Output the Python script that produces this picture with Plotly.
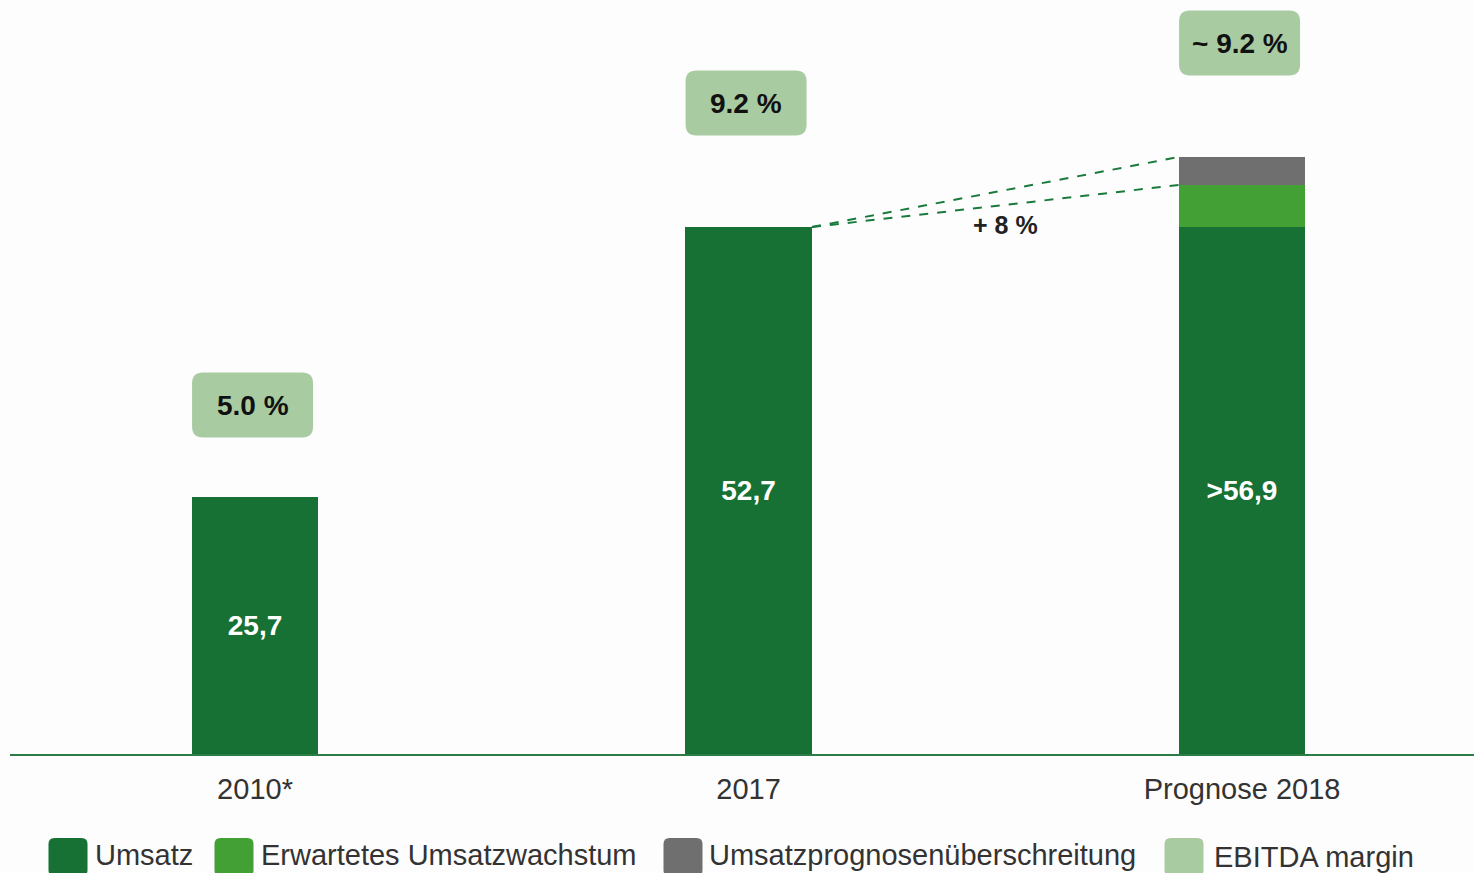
import plotly.graph_objects as go

# data
categories = ["2010*", "2017", "Prognose 2018"]
umsatz = [25.7, 52.7, 52.7]
wachstum = [0, 0, 4.2]
ueberschreitung = [0, 0, 2.8]
umsatz_labels = ["25,7", "52,7", ">56,9"]
ebitda_labels = ["5.0 %", "9.2 %", "~ 9.2 %"]
growth_label = "+ 8 %"
legend_names = ["Umsatz", "Erwartetes Umsatzwachstum", "Umsatzprognosenüberschreitung", "EBITDA margin"]

DARK = "#177134"
MID = "#43a035"
GRAY = "#6f6f6f"
LIGHT = "#a9cba2"
FONT = "Liberation Sans, Arial, sans-serif"

x = list(range(len(categories)))
bw = 0.257

fig = go.Figure()
fig.add_trace(go.Bar(x=x, y=umsatz, width=bw, marker=dict(color=DARK, line=dict(width=0)),
                     text=umsatz_labels, textposition="inside", insidetextanchor="middle",
                     textfont=dict(color="white", size=28, family=FONT, weight="bold"),
                     showlegend=False))
fig.add_trace(go.Bar(x=x, y=wachstum, width=bw, marker=dict(color=MID, line=dict(width=0)),
                     showlegend=False))
fig.add_trace(go.Bar(x=x, y=ueberschreitung, width=bw, marker=dict(color=GRAY, line=dict(width=0)),
                     showlegend=False))


def rounded(w, h, r):
    a, b = w / 2, h / 2
    return (f"M {-a + r},{-b} L {a - r},{-b} Q {a},{-b} {a},{-b + r} "
            f"L {a},{b - r} Q {a},{b} {a - r},{b} L {-a + r},{b} "
            f"Q {-a},{b} {-a},{b - r} L {-a},{-b + r} Q {-a},{-b} {-a + r},{-b} Z")


shapes = []
annotations = []

# EBITDA margin boxes
box_y = [34.9, 65.1, 71.1]
for i, lab in enumerate(ebitda_labels):
    shapes.append(dict(type="path", xref="x", yref="y", xsizemode="pixel", ysizemode="pixel",
                       xanchor=x[i] - 0.005, yanchor=box_y[i], path=rounded(121, 65, 11),
                       fillcolor=LIGHT, line=dict(width=0), layer="below"))
    annotations.append(dict(x=x[i] - 0.005, y=box_y[i], xref="x", yref="y", text=lab, showarrow=False,
                            font=dict(size=28, color="#111", family=FONT, weight="bold")))

# dashed growth lines from 2017 top to 2018 stack tops
top17 = umsatz[1]
tops18 = [umsatz[2] + wachstum[2] + ueberschreitung[2], umsatz[2] + wachstum[2]]
for t in tops18:
    shapes.append(dict(type="line", xref="x", yref="y", x0=x[1] + bw / 2, y0=top17,
                       x1=x[2] - bw / 2, y1=t, line=dict(color="#1a7a3c", width=2, dash="dash")))
annotations.append(dict(x=1.52, y=52.9, xref="x", yref="y", text=growth_label, showarrow=False,
                        font=dict(size=25, color="#222", family=FONT, weight="bold")))

# custom legend
leg_colors = [DARK, MID, GRAY, LIGHT]
leg_swatch_x = [68, 234, 683, 1184]
leg_text_x = [93, 259, 707, 1212]
leg_text_y = [855, 855, 855, 857]
for name, c, sx, tx, ty in zip(legend_names, leg_colors, leg_swatch_x, leg_text_x, leg_text_y):
    shapes.append(dict(type="path", xref="paper", yref="paper", xsizemode="pixel", ysizemode="pixel",
                       xanchor=(sx - 10) / 1464, yanchor=(754 - 857) / 754, path=rounded(39, 38, 6),
                       fillcolor=c, line=dict(width=0)))
    annotations.append(dict(x=(tx - 10) / 1464, y=(754 - ty) / 754, xref="paper", yref="paper",
                            xanchor="left", yanchor="middle", text=name, showarrow=False,
                            font=dict(size=29, color="#333", family=FONT)))

fig.update_layout(
    width=1474, height=873,
    margin=dict(l=10, r=0, t=0, b=119),
    barmode="stack", bargap=0,
    paper_bgcolor="#fdfdfd", plot_bgcolor="#fdfdfd",
    showlegend=False,
    shapes=shapes, annotations=annotations,
    xaxis=dict(range=[-0.4965, 2.47], tickvals=x, ticktext=categories, showgrid=False, zeroline=False,
               showline=True, linecolor="#2b7d45", linewidth=2, ticklabelstandoff=8,
               tickfont=dict(size=29, color="#333", family=FONT), ticks=""),
    yaxis=dict(range=[0, 75.4], visible=False, showgrid=False, zeroline=False),
)

fig.write_html("out.html", config={"displayModeBar": False},
               post_script="document.body.style.margin='0';document.body.style.padding='0';")
